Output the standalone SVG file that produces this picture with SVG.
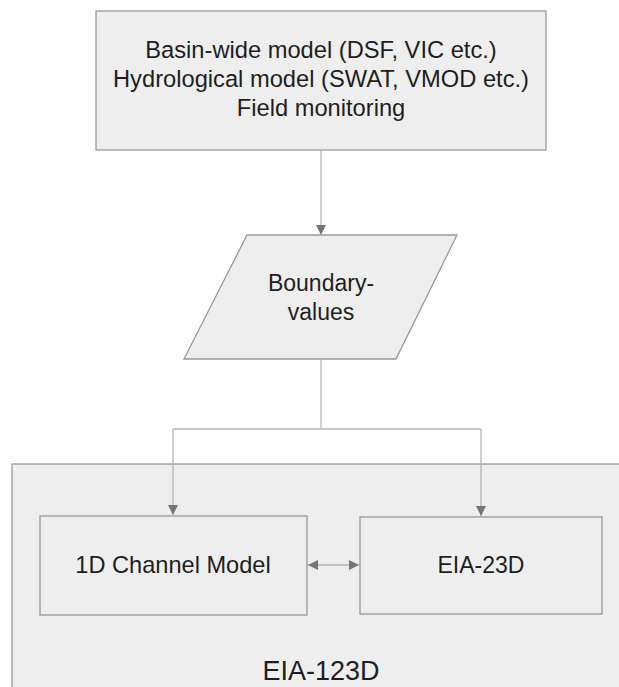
<svg xmlns="http://www.w3.org/2000/svg" width="619" height="687" viewBox="0 0 619 687">
<defs>
<style>
.box{fill:#eeeeee;stroke:#999999;stroke-width:1.3}
.txt{font-family:"Liberation Sans",Arial,sans-serif;font-size:23px;fill:#1e1e1e;text-anchor:middle}
.top{font-size:23.7px}
.big{font-size:27px}
.con{fill:none;stroke:#b4b4b4;stroke-width:1.3}
</style>
<marker id="ah" viewBox="0 0 10 10" refX="10" refY="5" markerWidth="10" markerHeight="10" markerUnits="userSpaceOnUse" orient="auto-start-reverse">
<path d="M0,0 L10,5 L0,10 Z" fill="#757575"/>
</marker>
</defs>
<rect width="619" height="687" fill="#ffffff"/>
<g id="eia123d">
<rect class="box" x="12" y="464" width="620" height="240"/>
<text class="txt big" x="321" y="680">EIA-123D</text>
</g>
<g id="sources">
<rect class="box" x="96" y="11" width="450" height="139"/>
<text class="txt top" x="321" y="58">Basin-wide model (DSF, VIC etc.)</text>
<text class="txt top" x="321" y="87">Hydrological model (SWAT, VMOD etc.)</text>
<text class="txt top" x="321" y="116">Field monitoring</text>
</g>
<g id="boundary">
<polygon class="box" points="247,235 457,235 396,359 184,359"/>
<text class="txt" x="321" y="291">Boundary-</text>
<text class="txt" x="321" y="320">values</text>
</g>
<g id="channel1d">
<rect class="box" x="40" y="516" width="267" height="99"/>
<text class="txt" x="173" y="573" style="font-size:23.6px">1D Channel Model</text>
</g>
<g id="eia23d">
<rect class="box" x="360" y="517" width="242" height="97"/>
<text class="txt" x="481" y="573">EIA-23D</text>
</g>
<g id="connectors">
<path class="con" d="M321,150 V235" marker-end="url(#ah)"/>
<path class="con" d="M321,359 V429"/>
<path class="con" d="M173,429 H481"/>
<path class="con" d="M173,429 V515" marker-end="url(#ah)"/>
<path class="con" d="M481,429 V516" marker-end="url(#ah)"/>
<path class="con" d="M308,565 H359" marker-start="url(#ah)" marker-end="url(#ah)"/>
</g>
</svg>
